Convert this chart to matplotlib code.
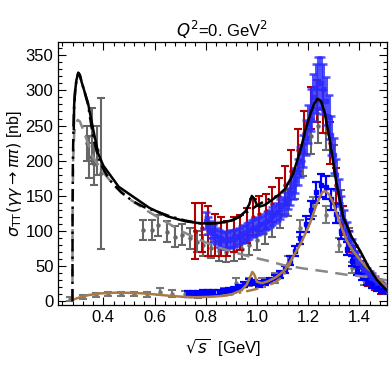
import matplotlib
matplotlib.use("Agg")
import matplotlib.pyplot as plt
from matplotlib.ticker import MultipleLocator

plt.rcParams['font.family'] = ['Liberation Sans', 'DejaVu Sans']
plt.rcParams['mathtext.fontset'] = 'dejavusans'

# ---- theory curves ----
black_x = [0.2845, 0.2860, 0.2900, 0.2950, 0.3020, 0.3080, 0.3150, 0.3250, 0.3400, 0.3600, 0.3800, 0.4000, 0.4300,
           0.4600, 0.5200, 0.5800, 0.6500, 0.7200, 0.7800, 0.8200, 0.8600, 0.9000, 0.9300, 0.9550, 0.9700, 0.9800,
           0.9900, 1.0000, 1.0120, 1.0300, 1.0500, 1.0800, 1.1100, 1.1400, 1.1700, 1.1900, 1.2100, 1.2250, 1.2370,
           1.2500, 1.2650, 1.2850, 1.3100, 1.3370, 1.3700, 1.4030, 1.4350, 1.4680, 1.4900, 1.5120]
black_y = [245, 280, 300, 315, 325, 322, 312, 300, 282, 245, 210, 193, 178, 163, 148, 133, 121, 114, 111, 111, 112,
           115, 120, 128, 138, 150, 146, 137, 135, 137, 142, 150, 160, 180, 215, 244, 268, 282, 288, 285, 268, 229,
           170, 120, 92, 72, 50, 31, 22, 14]

blackdd_x = [0.2792, 0.2797, 0.2810, 0.2835, 0.2860, 0.2900, 0.2950, 0.3020, 0.3080, 0.3150, 0.3250, 0.3400, 0.3600,
             0.3800, 0.4000, 0.4260, 0.4700, 0.5170, 0.5600, 0.6080, 0.6600, 0.7200, 0.7800, 0.8400, 0.8800, 0.9080,
             0.9400, 0.9700, 1.0120, 1.0500, 1.0800]
blackdd_y = [0, 120, 200, 250, 280, 300, 315, 325, 322, 312, 300, 280, 234, 205, 188, 172, 155, 142, 134, 128, 121,
             115, 111, 111, 113, 116, 122, 129, 139, 146, 150]

grayd_x = [0.2792, 0.2797, 0.2820, 0.2860, 0.2920, 0.3000, 0.3080, 0.3200, 0.3400, 0.3600, 0.4000, 0.4500, 0.5000,
           0.5700, 0.6400, 0.7100, 0.7800, 0.8400, 0.9000, 0.9700, 1.0400, 1.1000, 1.1800, 1.2600, 1.3500, 1.4300,
           1.5100]
grayd_y = [0, 120, 200, 238, 252, 258, 256, 245, 225, 205, 183, 162, 146, 129, 114, 99, 87, 78, 71, 64, 58, 52, 47,
           43, 38, 35, 30]

brown_x = [0.2792, 0.300, 0.341, 0.390, 0.446, 0.500, 0.550, 0.610, 0.667, 0.720, 0.758, 0.810, 0.862, 0.900, 0.940,
           0.960, 0.975, 0.982, 0.990, 1.000, 1.019, 1.045, 1.077, 1.110, 1.142, 1.175, 1.207, 1.235, 1.255, 1.266,
           1.280, 1.296, 1.312, 1.330, 1.350, 1.375, 1.403, 1.430, 1.455, 1.485, 1.513]
brown_y = [2, 5, 9, 11.5, 12.5, 12.3, 11.6, 9.8, 7.8, 6.5, 6, 6.5, 7.8, 10, 16, 24, 36, 42, 38, 28, 26, 29, 35, 45,
           64, 85, 111, 140, 155, 157, 153, 142, 125, 106, 87, 72, 59, 48, 40, 29, 19]

browndd_x = [0.862, 0.900, 0.940, 0.990, 1.030, 1.070, 1.100, 1.120, 1.142]
browndd_y = [7.8, 10, 13, 17, 21, 27, 35, 47, 64]

# ---- data ----
gthr_x = [0.335, 0.345, 0.355, 0.365, 0.375, 0.392]
gthr_y = [225, 205, 235, 195, 215, 182]
gthr_e = [25, 30, 40, 30, 35, 107]

gch_x = [0.556, 0.589, 0.615, 0.648, 0.680, 0.706, 0.739, 0.765, 0.790, 0.820, 0.850, 0.880, 0.910, 0.940, 0.970,
         1.000, 1.030, 1.060, 1.090, 1.120, 1.150, 1.180, 1.210, 1.240, 1.270, 1.300, 1.330, 1.360, 1.390, 1.420,
         1.450, 1.480]
gch_y = [102, 102, 108, 99, 92, 95, 90, 85, 80, 76, 72, 70, 72, 75, 80, 88, 97, 108, 122, 140, 165, 200, 235, 250,
         240, 200, 140, 90, 60, 42, 30, 22]
gch_e = [14, 14, 15, 15, 15, 15, 15, 15, 15, 14, 14, 14, 14, 14, 14, 15, 15, 16, 17, 18, 20, 22, 25, 25, 25, 22, 18,
         14, 12, 10, 8, 7]

gneu_x = [0.27, 0.32, 0.37, 0.42, 0.47, 0.52, 0.57, 0.62, 0.67, 0.72, 0.77, 0.82, 0.87, 0.92, 0.97, 1.02, 1.07, 1.12,
          1.17, 1.22, 1.27, 1.32, 1.37, 1.42, 1.47]
gneu_y = [4, 6, 9, 11, 11, 11, 10, 14, 11, 11, 9, 12, 14, 26, 28, 27, 33, 55, 104, 135, 123, 80, 48, 30, 22]
gneu_e = [3, 3, 3, 3, 3, 3, 3, 5, 5, 4, 4, 4, 5, 7, 6, 6, 7, 9, 12, 14, 12, 10, 8, 7, 6]

red_x = [0.758, 0.785, 0.810, 0.835, 0.860, 0.885, 0.910, 0.935, 0.960, 0.985, 1.010, 1.035, 1.060, 1.085, 1.110,
         1.135, 1.160, 1.185, 1.210, 1.235, 1.260, 1.285, 1.310, 1.335, 1.360, 1.385, 1.410, 1.435, 1.460, 1.485]
red_y = [100, 105, 100, 95, 92, 90, 95, 98, 108, 120, 125, 128, 138, 150, 165, 185, 215, 240, 275, 285, 270, 225,
         165, 115, 85, 65, 48, 32, 25, 18]
red_e = [40, 35, 35, 30, 28, 25, 25, 25, 25, 25, 25, 25, 25, 25, 28, 30, 30, 30, 30, 30, 30, 30, 25, 20, 15, 12, 10,
         10, 8, 8]

bch_x = [0.80, 0.81, 0.82, 0.83, 0.84, 0.85, 0.86, 0.87, 0.88, 0.89, 0.90, 0.91, 0.92, 0.93, 0.94, 0.95, 0.96, 0.97,
         0.98, 0.99, 1.00, 1.01, 1.02, 1.03, 1.04, 1.05, 1.06, 1.07, 1.08, 1.09, 1.10, 1.11, 1.12, 1.13, 1.14, 1.15,
         1.16, 1.17, 1.18, 1.19, 1.20, 1.21, 1.22, 1.23, 1.24, 1.25, 1.26, 1.27, 1.28, 1.29, 1.30, 1.31, 1.32, 1.33,
         1.34, 1.35, 1.36, 1.37, 1.38, 1.39, 1.40, 1.41, 1.42, 1.43, 1.44, 1.45, 1.46, 1.47, 1.48, 1.49, 1.50]
bch_y = [115, 108, 102, 97, 93, 90, 88, 87, 87, 88, 89, 90, 91, 93, 95, 97, 99, 101, 104, 105, 106, 108, 110, 113,
         115, 118, 121, 124, 127, 131, 135, 140, 146, 153, 162, 172, 184, 198, 214, 233, 252, 272, 290, 303, 310,
         310, 302, 285, 262, 236, 208, 180, 155, 133, 115, 100, 88, 78, 70, 62, 56, 50, 45, 41, 37, 33, 30, 26, 23,
         20, 18]
bch_e = [12, 12, 12, 12, 12, 12, 12, 12, 12, 12, 12, 12, 12, 12, 12, 12, 12, 12, 12, 12, 12, 12, 12, 12, 12, 12, 13,
         13, 13, 14, 14, 15, 15, 16, 17, 18, 19, 21, 23, 25, 27, 30, 33, 35, 37, 37, 36, 34, 31, 28, 25, 22, 19, 17,
         15, 13, 12, 11, 10, 9, 9, 8, 8, 7, 7, 7, 6, 6, 6, 6, 6]

bneu_x = [0.73, 0.75, 0.77, 0.79, 0.81, 0.83, 0.85, 0.87, 0.89, 0.91, 0.93, 0.95, 0.97, 0.99, 1.01, 1.03, 1.05, 1.07,
          1.09, 1.11, 1.13, 1.15, 1.17, 1.19, 1.21, 1.23, 1.25, 1.27, 1.29, 1.31, 1.33, 1.35, 1.37, 1.39, 1.41, 1.43,
          1.45, 1.47, 1.49]
bneu_y = [11, 11, 11, 12, 12, 12, 13, 14, 15, 17, 20, 24, 28, 27, 25, 27, 30, 34, 39, 46, 58, 72, 90, 110, 130, 155,
          165, 162, 145, 125, 100, 75, 57, 43, 35, 28, 23, 19, 16]
bneu_e = [4, 4, 4, 4, 4, 4, 4, 4, 4, 4, 4, 4, 4, 4, 4, 4, 4, 4, 5, 5, 6, 7, 9, 11, 13, 15, 16, 16, 15, 13, 11, 9, 7,
          6, 5, 5, 4, 4, 4]

fig = plt.figure(figsize=(3.9, 3.9), dpi=100)
ax = fig.add_axes([0.1495, 0.2167, 0.842, 0.6753])

eb = dict(fmt='o', markersize=2.2, capsize=2.6, elinewidth=1.5, capthick=1.5)
ax.errorbar(gneu_x, gneu_y, yerr=gneu_e, color='#777777', zorder=3, **eb)
ax.errorbar(gthr_x, gthr_y, yerr=gthr_e, color='#666666', zorder=3, **eb)
ax.errorbar(gch_x, gch_y, yerr=gch_e, color='#666666', zorder=3, **eb)
ax.errorbar(red_x, red_y, yerr=red_e, color='#b30000', zorder=4, **eb)
ax.errorbar(bch_x, bch_y, yerr=bch_e, color='#2a2aff', alpha=0.82, zorder=5,
            fmt='s', markersize=3, capsize=3.2, elinewidth=2.2, capthick=1.8)
ax.errorbar(bneu_x, bneu_y, yerr=bneu_e, color='#0000ff', zorder=5,
            fmt='s', markersize=2.5, capsize=3, elinewidth=1.6, capthick=1.6)

ax.plot(grayd_x, grayd_y, color='#888888', lw=1.8, ls=(0, (5, 3)), zorder=6)
ax.plot(browndd_x, browndd_y, color='#a87a45', lw=1.8, ls=(0, (5, 2, 1, 2)), zorder=6)
ax.plot(brown_x, brown_y, color='#a87a45', lw=1.8, zorder=7)
ax.plot(blackdd_x, blackdd_y, color='black', lw=1.8, ls=(0, (5, 2, 1, 2)), zorder=7)
ax.plot(black_x, black_y, color='black', lw=1.8, zorder=8)

ax.set_xlim(0.224, 1.507)
ax.set_ylim(-5.7, 368.6)
ax.xaxis.set_major_locator(MultipleLocator(0.2))
ax.xaxis.set_minor_locator(MultipleLocator(0.04))
ax.yaxis.set_major_locator(MultipleLocator(50))
ax.yaxis.set_minor_locator(MultipleLocator(10))
ax.set_xticks([0.4, 0.6, 0.8, 1.0, 1.2, 1.4])
ax.set_xticklabels(['0.4', '0.6', '0.8', '1.0', '1.2', '1.4'])
ax.tick_params(which='both', direction='in', top=True, right=True, labelsize=12, width=0.8)
ax.tick_params(which='major', length=6)
ax.tick_params(which='minor', length=3)
for sp in ax.spines.values():
    sp.set_linewidth(0.9)

ax.set_title(r'$Q^2$=0. GeV$^2$', fontsize=12, pad=4)
ax.set_xlabel(r'$\sqrt{s}$  [GeV]', fontsize=12, labelpad=8)
ax.set_ylabel(r'$\sigma_{\rm TT}(\gamma\gamma\rightarrow\pi\pi)$ [nb]', fontsize=11.5, labelpad=1)

fig.savefig('out.png', dpi=100)
